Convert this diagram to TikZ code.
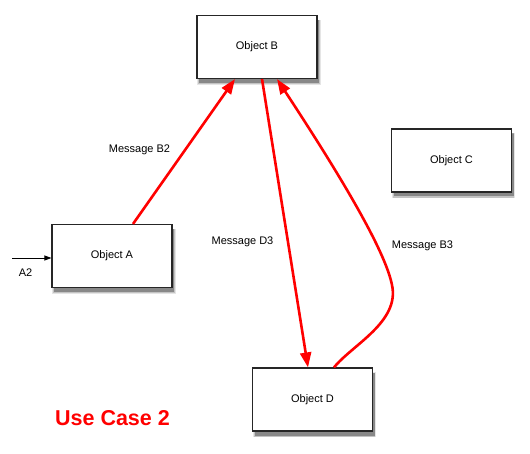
\documentclass[tikz,border=0pt]{standalone}
\usepackage{fontspec}
\setmainfont{Liberation Sans}
\usetikzlibrary{arrows.meta,shadows}
\begin{document}
\begin{tikzpicture}[x=1pt,y=-1pt,
  obj/.style={draw=black!85,line width=1.1pt,fill=white,minimum width=120pt,minimum height=63pt,
    font=\fontsize{11}{13}\selectfont,
    general shadow={shadow xshift=2pt,shadow yshift=-5pt,shadow scale=1.03,fill=black,opacity=0.10},
    general shadow={shadow xshift=2pt,shadow yshift=-5pt,shadow scale=1.015,fill=black,opacity=0.15},
    general shadow={shadow xshift=2pt,shadow yshift=-4.5pt,fill=black,opacity=0.30}},
  msg/.style={draw=red,line width=2.6pt,-{Triangle[length=15pt,width=11pt]}},
  lbl/.style={font=\fontsize{11}{13}\selectfont,inner sep=0pt}]
\useasboundingbox (0,0) rectangle (530,454);
\node[obj] (B) at (257,47) {Object B};
\node[obj] (A) at (112,256) {Object A};
\node[obj] (C) at (451.5,160.5) {Object C};
\node[obj] (D) at (312.5,399.5) {Object D};
\coordinate (a2start) at (12,258);
\draw[line width=0.8pt,-{Triangle[length=7pt,width=5pt]}] (a2start) -- (A.west |- a2start);
\node[lbl] (a2) at (25.5,273) {A2};
\draw[msg] ([xshift=21pt]A.north) -- ([xshift=-22pt]B.south);
\draw[msg] ([xshift=5pt]B.south) -- ([xshift=-4.5pt]D.north);
\draw[msg] ([xshift=21.5pt]D.north) .. controls (352,345) and (400,322) .. (392,285)
  .. controls (385,250) and (340,175) .. ([xshift=20pt]B.south);
\node[lbl] (mb2) at (139.5,150) {Message B2};
\node[lbl] (md3) at (242.5,242) {Message D3};
\node[lbl] (mb3) at (422.5,246) {Message B3};
\node[text=red,font=\fontsize{21.5}{24}\selectfont\bfseries] (uc) at (112.5,418) {Use Case 2};
\end{tikzpicture}
\end{document}
